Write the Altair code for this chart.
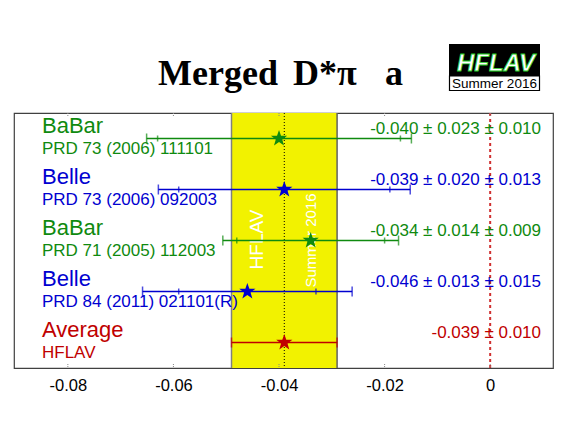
import altair as alt
import pandas as pd

# ---- data ----
experiments = ["BaBar", "Belle", "BaBar", "Belle", "Average"]
references = ["PRD 73 (2006) 111101", "PRD 73 (2006) 092003",
              "PRD 71 (2005) 112003", "PRD 84 (2011) 021101(R)", "HFLAV"]
values = [-0.040, -0.039, -0.034, -0.046, -0.039]
stat_err = [0.023, 0.020, 0.014, 0.013, 0.010]
syst_err = [0.010, 0.013, 0.009, 0.015, 0.0]
avg_value = -0.039
avg_error = 0.010
tick_values = [-0.08, -0.06, -0.04, -0.02, 0.0]
title_parts = ["Merged", "D*π", "a"]

W, H = 539, 255
GREEN, BLUE, RED = "#0f8a0f", "#0000d0", "#c00000"
STAR = ("M0,-1L0.235,-0.324L0.951,-0.309L0.380,0.124L0.588,0.809L0,0.4"
        "L-0.588,0.809L-0.380,0.124L-0.951,-0.309L-0.235,-0.324Z")

rows = []
caps = []
for i, (e, r, v, s, y) in enumerate(zip(experiments, references, values, stat_err, syst_err)):
    tot = (s ** 2 + y ** 2) ** 0.5
    if y > 0:
        txt = f"{v:.3f} ± {s:.3f} ± {y:.3f}"
    else:
        txt = f"{v:.3f} ± {s:.3f}"
    rows.append(dict(row=i + 0.5, exp=e, ref=r, val=v, lo=v - tot, hi=v + tot, txt=txt))
    for xv in (v - tot, v + tot):
        caps.append(dict(row=i + 0.5, exp=e, x=xv, kind="outer"))
    if y > 0:
        for xv in (v - s, v + s):
            caps.append(dict(row=i + 0.5, exp=e, x=xv, kind="inner"))
df = pd.DataFrame(rows)
cap_df = pd.DataFrame(caps)
avg_df = pd.DataFrame([dict(val=avg_value, lo=avg_value - avg_error, hi=avg_value + avg_error)])
tick_df = pd.DataFrame(dict(t=tick_values))

xscale = alt.Scale(domain=[-0.0902, 0.0119], nice=False, zero=False)
yscale = alt.Scale(domain=[0, 5], reverse=True, nice=False, zero=False)
xaxis = alt.Axis(values=tick_values,
                 labelExpr="datum.value == 0 ? '0' : '-' + format(abs(datum.value), '.2f')",
                 ticks=False, domain=False, grid=False, labelFontSize=16.5,
                 labelFont="Liberation Sans", labelColor="black", labelPadding=9,
                 title=None)


def X(field):
    return alt.X(field, scale=xscale, axis=xaxis)


def Y(field):
    return alt.Y(field, scale=yscale, axis=None)


color = alt.Color("exp:N", scale=alt.Scale(domain=["BaBar", "Belle", "Average"],
                                           range=[GREEN, BLUE, RED]), legend=None)

band = alt.Chart(avg_df).mark_rect(color="#f2f200").encode(
    x=X("lo:Q"), x2="hi:Q", y=alt.value(0), y2=alt.value(H))
band_lo = alt.Chart(avg_df).mark_rule(color="#808080", strokeWidth=1.5).encode(
    x=X("lo:Q"), y=alt.value(0), y2=alt.value(H))
band_hi = alt.Chart(avg_df).mark_rule(color="#606060", strokeWidth=1.5).encode(
    x=X("hi:Q"), y=alt.value(0), y2=alt.value(H))
band_t1 = alt.Chart(avg_df).mark_text(text="HFLAV", color="white", font="Liberation Sans",
                                      fontSize=19, angle=270, align="center", baseline="middle").encode(
    x=alt.value(243), y=alt.value(126.5))
band_t2 = alt.Chart(avg_df).mark_text(text="Summer 2016", color="white", font="Liberation Sans",
                                      fontSize=15, angle=270, align="center", baseline="middle").encode(
    x=alt.value(297), y=alt.value(127.5))
avg_line = alt.Chart(avg_df).mark_rule(color="black", strokeWidth=1, strokeDash=[1, 2]).encode(
    x=X("val:Q"), y=alt.value(0), y2=alt.value(H))
zero_line = alt.Chart(tick_df).transform_filter("datum.t == 0").mark_rule(
    color="#d03030", strokeWidth=2, strokeDash=[3, 3]).encode(
    x=X("t:Q"), y=alt.value(0), y2=alt.value(H))
ticks_b = alt.Chart(tick_df).mark_rule(color="#888888", strokeWidth=1, strokeDash=[1, 1]).encode(
    x=X("t:Q"), y=alt.value(H - 4), y2=alt.value(H))
ticks_t = alt.Chart(tick_df).mark_rule(color="#888888", strokeWidth=1, strokeDash=[1, 1]).encode(
    x=X("t:Q"), y=alt.value(0), y2=alt.value(4))

err = alt.Chart(df).mark_rule(strokeWidth=1.6).encode(
    x=X("lo:Q"), x2="hi:Q", y=Y("row:Q"), color=color)
outer = alt.Chart(cap_df).transform_filter("datum.kind == 'outer'").mark_tick(
    orient="vertical", size=10, thickness=1.5).encode(
    x=X("x:Q"), y=Y("row:Q"), color=color)
inner = alt.Chart(cap_df).transform_filter("datum.kind == 'inner'").mark_tick(
    orient="vertical", size=6, thickness=1.5).encode(
    x=X("x:Q"), y=Y("row:Q"), color=color)
stars = alt.Chart(df).mark_point(shape=STAR, filled=True, size=290, opacity=1).encode(
    x=X("val:Q"), y=Y("row:Q"), color=color)

name_t = alt.Chart(df).mark_text(align="left", baseline="alphabetic", fontSize=22,
                                 font="Liberation Sans", dy=-5.5).encode(
    x=alt.value(28), y=Y("row:Q"), text="exp:N", color=color)
ref_t = alt.Chart(df).mark_text(align="left", baseline="alphabetic", fontSize=17,
                                font="Liberation Sans", dy=15).encode(
    x=alt.value(28), y=Y("row:Q"), text="ref:N", color=color)
val_t = alt.Chart(df).mark_text(align="right", baseline="alphabetic", fontSize=17,
                                font="Liberation Sans", dy=-5).encode(
    x=alt.value(527), y=Y("row:Q"), text="txt:N", color=color)

# title pieces
tpos = [144, 279, 371]
title_layers = [
    alt.Chart(avg_df).mark_text(text=t, font="Liberation Serif", fontWeight="bold", fontSize=36,
                                align="left", baseline="alphabetic", color="black").encode(
        x=alt.value(px), y=alt.value(-28.5))
    for t, px in zip(title_parts, tpos)
]
# logo
logo_black = alt.Chart(avg_df).mark_rect(color="black").encode(
    x=alt.value(435), x2=alt.value(526), y=alt.value(-69), y2=alt.value(-37))
logo_white = alt.Chart(avg_df).mark_rect(color="white", stroke="black", strokeWidth=1.2).encode(
    x=alt.value(435.5), x2=alt.value(525.5), y=alt.value(-37), y2=alt.value(-22.5))
logo_text = alt.Chart(avg_df).mark_text(text="HFLAV", color="white", stroke="#1fcc1f",
                                        strokeWidth=0.8, font="Liberation Sans",
                                        fontWeight="bold", fontStyle="italic", fontSize=24,
                                        align="center", baseline="alphabetic").encode(
    x=alt.value(482), y=alt.value(-42))
logo_sub = alt.Chart(avg_df).mark_text(text="Summer 2016", color="black", font="Liberation Sans",
                                       fontSize=13.5, align="center", baseline="alphabetic").encode(
    x=alt.value(480.5), y=alt.value(-25.5))

chart = alt.layer(
    band, band_lo, band_hi, band_t1, band_t2, avg_line, zero_line, ticks_b, ticks_t,
    err, outer, inner, stars, name_t, ref_t, val_t,
    *title_layers, logo_black, logo_white, logo_text, logo_sub
).properties(
    width=W, height=H,
    autosize=alt.AutoSizeParams(type="none"),
    padding={"left": 6, "top": 105, "right": 6, "bottom": 45},
    background="white",
).configure_view(stroke="#404040", strokeWidth=1.2).configure_axisX(
    labelFontSize=16.5, labelFont="Liberation Sans", labelColor="black", labelPadding=9
)

chart.save("out.html", embed_options={"renderer": "svg", "actions": False})
